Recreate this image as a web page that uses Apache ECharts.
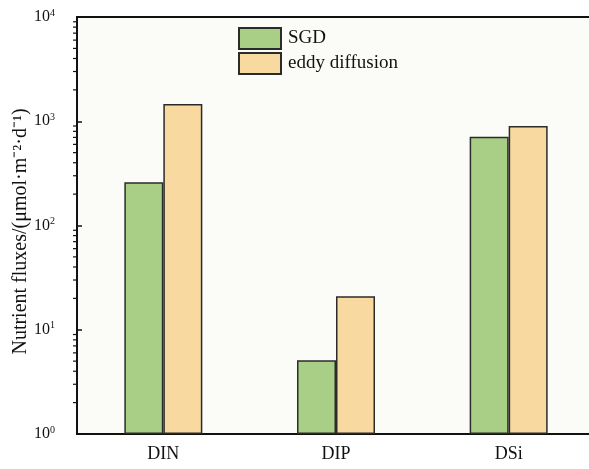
<!DOCTYPE html>
<html>
<head>
<meta charset="utf-8">
<script src="https://cdn.jsdelivr.net/npm/echarts@6/dist/echarts.min.js"></script>
<style>
  html, body { margin: 0; padding: 0; background: #ffffff; }
  #chart { width: 589px; height: 469px; }
</style>
</head>
<body>
<div id="chart"></div>
<script>
// Nutrient fluxes by source, log scale
const categories = ['DIN', 'DIP', 'DSi'];
const sgdValues = [260, 5.1, 710];
const eddyValues = [1460, 21, 900];
const seriesNames = ['SGD', 'eddy diffusion'];
const yTickValues = [1, 10, 100, 1000, 10000];
// minor ticks between decades (2..9 × 10^k)
const minorTickValues = [];
for (let k = 0; k < 4; k++) {
  for (let m = 2; m <= 9; m++) minorTickValues.push(m * Math.pow(10, k));
}

const FONT = '"Liberation Serif", "Times New Roman", serif';
const GREEN = '#a9cf86';
const ORANGE = '#f8d9a0';
const EDGE = '#2b2b2b';

const chart = echarts.init(document.getElementById('chart'), null, { renderer: 'canvas' });

chart.setOption({
  backgroundColor: '#ffffff',
  animation: false,
  textStyle: { fontFamily: FONT },
  grid: {
    left: 77, top: 17, width: 518, bottom: 35,
    outerBoundsMode: 'none',
    show: true,
    backgroundColor: '#fbfbf8',
    borderColor: '#111111',
    borderWidth: 2,
    containLabel: false
  },
  legend: {
    orient: 'vertical',
    left: 233, top: 22,
    itemWidth: 42, itemHeight: 21, itemGap: 2,
    data: seriesNames,
    icon: 'rect',
    textStyle: { fontFamily: FONT, fontSize: 19, color: '#111', padding: [0, 0, 0, 2] }
  },
  xAxis: {
    type: 'category',
    data: categories,
    axisLine: { lineStyle: { color: '#111', width: 2 } },
    axisTick: { show: false },
    axisLabel: { fontFamily: FONT, fontSize: 18, color: '#111', margin: 11 }
  },
  yAxis: {
    type: 'log',
    logBase: 10,
    min: yTickValues[0],
    max: yTickValues[yTickValues.length - 1],
    name: 'Nutrient fluxes/(μmol·m⁻²·d⁻¹)',
    nameLocation: 'middle',
    nameGap: 46,
    nameMoveOverlap: false,
    nameTextStyle: { fontFamily: FONT, fontSize: 20, color: '#111', padding: [0, 12, 0, 0] },
    splitLine: { show: false },
    axisLine: { show: true, lineStyle: { color: '#111', width: 2 } },
    axisTick: { show: true, inside: true, length: 5, lineStyle: { color: '#111', width: 1.5 } },
    axisLabel: {
      margin: 22,
      formatter: function (v) {
        return '{b|10}{s|' + Math.round(Math.log10(v)) + '}';
      },
      rich: {
        b: { fontFamily: FONT, fontSize: 16, color: '#111' },
        s: { fontFamily: FONT, fontSize: 10, color: '#111', verticalAlign: 'top', padding: [0, 0, 8, 0] }
      }
    }
  },
  series: [
    {
      name: seriesNames[0],
      type: 'bar',
      data: sgdValues,
      barWidth: 39,
      barGap: '0%',
      itemStyle: { color: GREEN, borderColor: EDGE, borderWidth: 1.5 }
    },
    {
      name: seriesNames[1],
      type: 'bar',
      data: eddyValues,
      barWidth: 39,
      barGap: '0%',
      itemStyle: { color: ORANGE, borderColor: EDGE, borderWidth: 1.5 }
    },
    {
      // log-spaced minor ticks drawn on the outside of the value axis
      type: 'custom',
      silent: true,
      clip: false,
      data: minorTickValues.map(v => [0, v]),
      encode: { x: 0, y: 1 },
      renderItem: function (params, api) {
        const y = api.coord([0, api.value(1)])[1];
        const x = params.coordSys.x;
        return {
          type: 'line',
          shape: { x1: x - 4, y1: y, x2: x, y2: y },
          style: { stroke: '#111', lineWidth: 1.2 }
        };
      }
    }
  ]
});
</script>
</body>
</html>
